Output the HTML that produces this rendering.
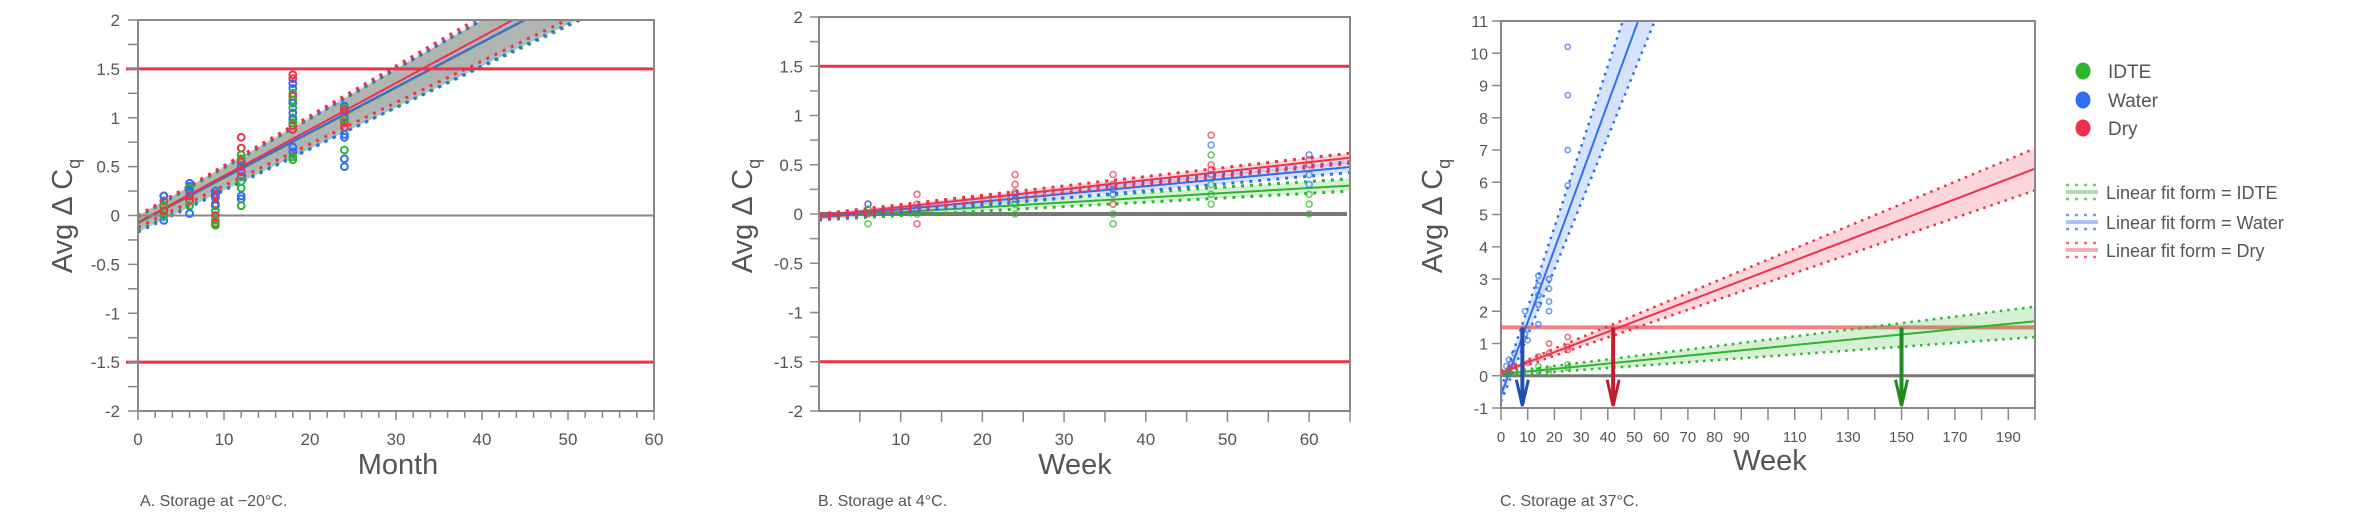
<!DOCTYPE html>
<html><head><meta charset="utf-8"><style>
html,body{margin:0;padding:0;background:#fff;}
svg{display:block;font-family:"Liberation Sans",sans-serif;}
</style></head><body>
<svg id="s" width="2371" height="525" viewBox="0 0 2371 525" xmlns="http://www.w3.org/2000/svg"></svg>
<script>
const S=document.getElementById('s');let h='';
const G='#2db52d',B='#2f6ef0',R='#f0304a',AX='#888';
function L(x1,y1,x2,y2,c,w,extra){h+=`<line x1="${x1}" y1="${y1}" x2="${x2}" y2="${y2}" stroke="${c}" stroke-width="${w}" ${extra||''}/>`;}
function T(x,y,t,sz,anc,extra){h+=`<text x="${x}" y="${y}" font-size="${sz}" fill="#555" text-anchor="${anc||'start'}" ${extra||''}>${t}</text>`;}
function C(x,y,r,c,fill,op,sw){h+=`<circle cx="${x}" cy="${y}" r="${r}" fill="${fill?c:'none'}" stroke="${c}" stroke-width="${sw||1.6}" ${op?'opacity="'+op+'"':''}/>`;}
function panel(o){
 const {x0,x1,y0,y1,xmin,xmax,ymin,ymax}=o;
 const X=v=>x0+(v-xmin)/(xmax-xmin)*(x1-x0), Y=v=>y1-(v-ymin)/(ymax-ymin)*(y1-y0);
 h+=`<clipPath id="c${o.id}"><rect x="${x0}" y="${y0}" width="${x1-x0}" height="${y1-y0}"/></clipPath>`;
 return {X,Y};
}
function axes(p,o){
 const {x0,x1,y0,y1}=o;
 h+=`<rect x="${x0}" y="${y0}" width="${x1-x0}" height="${y1-y0}" fill="none" stroke="${AX}" stroke-width="2"/>`;
}
function band(p,id,xa,xb,f1,lo,hi,c,op,dot){
 const {X,Y}=p;let pts=[];
 for(let i=0;i<=20;i++){const x=xa+(xb-xa)*i/20;pts.push(X(x)+','+Y(hi(x)));}
 for(let i=20;i>=0;i--){const x=xa+(xb-xa)*i/20;pts.push(X(x)+','+Y(lo(x)));}
 h+=`<g clip-path="url(#c${id})"><polygon points="${pts.join(' ')}" fill="${c}" opacity="${op}"/>`;
 let pl=f=>{let q=[];for(let i=0;i<=20;i++){const x=xa+(xb-xa)*i/20;q.push(X(x)+','+Y(f(x)));}return q.join(' ');};
 h+=`<polyline points="${pl(hi)}" fill="none" stroke="${c}" stroke-width="${dot}" stroke-dasharray="${dot} ${dot*2}"/>`;
 h+=`<polyline points="${pl(lo)}" fill="none" stroke="${c}" stroke-width="${dot}" stroke-dasharray="${dot} ${dot*2}"/>`;
 h+=`<polyline points="${pl(f1)}" fill="none" stroke="${c}" stroke-width="2"/></g>`;
}
// ---------- Panel A ----------
let oA={id:'A',x0:138,x1:654,y0:20,y1:411,xmin:0,xmax:60,ymin:-2,ymax:2};let pA=panel(oA);
{const {X,Y}=pA;
 h+=`<g clip-path="url(#cA)"><polygon points="${X(0)},${Y(0)} ${X(40)},${Y(2)} ${X(51)},${Y(2)} ${X(0)},${Y(-0.17)}" fill="#b5b5b5" opacity="0.7"/></g>`;
 band(pA,'A',0,60,x=>-0.08+0.0462*x,x=>-0.15+0.0418*x,x=>-0.02+0.0505*x,G,0.12,3);
 band(pA,'A',0,60,x=>-0.07+0.0461*x,x=>-0.17+0.0425*x,x=>0.0+0.050*x,B,0.08,3);
 band(pA,'A',0,60,x=>-0.07+0.0475*x,x=>-0.12+0.0425*x,x=>0.0+0.051*x,R,0.08,3);
 L(X(0),Y(0),X(60),Y(0),'#888',2);
 L(126,Y(1.5),653,Y(1.5),R,3);L(126,Y(-1.5),653,Y(-1.5),R,3);
 const cols={3:[[R,.2],[R,.15],[B,.2],[B,.1],[G,.05],[G,.1],[B,-.05],[G,0],[R,.05]],6:[[B,.33],[B,.3],[G,.28],[G,.2],[B,.25],[R,.15],[G,.1],[B,.02],[R,.2]],9:[[R,.22],[R,.2],[B,.18],[R,.12],[B,.1],[G,.05],[R,0],[G,-.05],[R,-.08],[G,-.1],[B,.25]],12:[[R,.8],[R,.69],[G,.62],[G,.58],[R,.55],[B,.5],[G,.45],[B,.4],[G,.35],[G,.28],[B,.2],[B,.17],[G,.1],[R,.45]],18:[[R,1.44],[R,1.4],[B,1.35],[B,1.3],[G,1.25],[R,1.22],[G,1.18],[B,1.15],[G,1.1],[B,1.05],[G,1.0],[B,.98],[R,.92],[R,.88],[G,.95],[B,.65],[G,.6],[G,.57],[B,.7]],24:[[B,1.12],[G,1.1],[R,1.05],[B,1.0],[R,.95],[G,.98],[R,.9],[B,.83],[B,.8],[G,.67],[B,.58],[B,.5],[R,1.08]]};
 for(const k in cols)for(const [c,v] of cols[k])C(X(+k),Y(v),3.4,c,0,0,2);
 axes(pA,oA);
 for(let v=0;v<=60;v+=2){L(X(v),411,X(v),v%10==0?420:418,AX,1.5);}
 for(let v=-2;v<=2.001;v+=0.25){L(128,Y(v),138,Y(v),AX,1.5);}
 for(let v=0;v<=60;v+=10)T(X(v),445,v,17,'middle');
 [2,1.5,1,0.5,0,-0.5,-1,-1.5,-2].forEach(v=>T(120,Y(v)+6,v,17,'end'));
 T(398,474,'Month',29,'middle');
 h+=`<text transform="translate(72,216) rotate(-90)" font-size="29" fill="#555" text-anchor="middle">Avg Δ C<tspan font-size="18" dy="8">q</tspan></text>`;
 T(140,506,'A. Storage at −20°C.',16,'start');
}
// ---------- Panel B ----------
let oB={id:'B',x0:819,x1:1350,y0:17,y1:411,xmin:0,xmax:65,ymin:-2,ymax:2};let pB=panel(oB);
{const {X,Y}=pB;
 L(X(0),Y(1.5),1350,Y(1.5),R,3);L(X(0),Y(-1.5),1350,Y(-1.5),R,3);
 L(X(0),Y(0),1347,Y(0),'#777',4);
 band(pB,'B',0,65,x=>-0.03+0.0049*x,x=>-0.06+0.0045*x,x=>0.0+0.0055*x,G,0.2,3);
 band(pB,'B',0,65,x=>-0.03+0.0078*x,x=>-0.06+0.0074*x,x=>0.0+0.0082*x,B,0.2,3);
 band(pB,'B',0,65,x=>-0.02+0.0091*x,x=>-0.05+0.0087*x,x=>0.0+0.0095*x,R,0.2,3);
 const cols={6:[[R,.1],[B,.1],[G,-.1],[R,0],[G,.05]],12:[[R,.2],[R,.1],[R,-.1],[G,0],[B,.05]],24:[[R,.4],[R,.3],[B,.2],[R,.22],[G,.1],[G,0],[B,.15]],36:[[R,.4],[R,.3],[B,.25],[B,.2],[R,.1],[G,0],[G,-.1]],48:[[R,.8],[B,.7],[G,.6],[R,.5],[B,.4],[G,.3],[G,.2],[G,.1],[R,.45]],60:[[B,.6],[R,.5],[B,.4],[B,.3],[G,.2],[G,.1],[G,0],[R,.55]]};
 for(const k in cols)for(const [c,v] of cols[k])C(X(+k),Y(v),3,c,0,0.7);
 axes(pB,oB);
 for(let v=5;v<=65;v+=5){L(X(v),411,X(v),422,AX,1.5);}
 for(let v=-2;v<=2.001;v+=0.25){L(810,Y(v),819,Y(v),AX,1.5);}
 for(let v=10;v<=60;v+=10)T(X(v),445,v,17,'middle');
 [2,1.5,1,0.5,0,-0.5,-1,-1.5,-2].forEach(v=>T(803,Y(v)+6,v,17,'end'));
 T(1075,474,'Week',29,'middle');
 h+=`<text transform="translate(752,216) rotate(-90)" font-size="29" fill="#555" text-anchor="middle">Avg Δ C<tspan font-size="18" dy="8">q</tspan></text>`;
 T(818,506,'B. Storage at 4°C.',16,'start');
}
// ---------- Panel C ----------
let oC={id:'C',x0:1501,x1:2035,y0:21,y1:408,xmin:0,xmax:200,ymin:-1,ymax:11};let pC=panel(oC);
{const {X,Y}=pC;
 L(X(0),Y(1.5),2035,Y(1.5),'#f08080',4);
 L(X(0),Y(0),2035,Y(0),'#777',3);
 band(pC,'C',0,200,x=>0.05+0.0082*x,x=>0.0+0.006*x,x=>0.1+0.0102*x,G,0.2,2.5);
 band(pC,'C',0,200,x=>-0.6+0.226*x,x=>-0.8+0.205*x,x=>-0.4+0.25*x,B,0.2,2.5);
 band(pC,'C',0,200,x=>0.1+0.0316*x,x=>0.05+0.0285*x,x=>0.15+0.0345*x,R,0.2,2.5);
 const pts=[[2,.3,B],[3,.5,B],[4,.4,B],[5,.7,B],[3,.2,R],[5,.3,R],[3,.1,G],[9,2,B],[9,1.3,B],[10,1.1,B],[14,3.1,B],[14,2.8,B],[14,2.5,B],[14,2.2,B],[14,1.6,B],[18,3,B],[18,2.7,B],[18,2.3,B],[18,2,B],[25,10.2,B],[25,8.7,B],[25,7,B],[25,5.9,B],[10,.4,R],[14,.6,R],[18,1,R],[18,.7,R],[25,1.2,R],[25,.9,R],[25,.8,R],[14,.3,G],[14,.15,G],[18,.2,G],[18,.05,G],[25,.35,G],[25,.25,G]];
 for(const [x,y,c] of pts)C(X(x),Y(y),2.6,c,0,0.7);
 axes(pC,oC);
 function arr(x,c){const xx=X(x);L(xx,Y(1.5),xx,Y(-1)-4,c,4);h+=`<polyline points="${xx-6},${Y(0)+4} ${xx},${Y(-1)-2} ${xx+6},${Y(0)+4}" fill="none" stroke="${c}" stroke-width="3"/>`;}
 arr(8,'#1f4fb0');arr(42,'#c0202e');arr(150,'#1f8a1f');
 for(let v=0;v<=200;v+=10){L(X(v),408,X(v),420,AX,1.5);}
 for(let v=-1;v<=11;v++){L(1492,Y(v),1501,Y(v),AX,1.5);T(1488,Y(v)+6,v,16,'end');}
 [0,10,20,30,40,50,60,70,80,90,110,130,150,170,190].forEach(v=>T(X(v),442,v,15,'middle'));
 T(1770,470,'Week',29,'middle');
 h+=`<text transform="translate(1442,216) rotate(-90)" font-size="29" fill="#555" text-anchor="middle">Avg Δ C<tspan font-size="18" dy="8">q</tspan></text>`;
 T(1500,506,'C. Storage at 37°C.',16,'start');
 [[G,'IDTE',71],[B,'Water',100],[R,'Dry',128]].forEach(([c,t,y])=>{h+=`<ellipse cx="2083" cy="${y}" rx="7.5" ry="8.5" fill="${c}"/>`;T(2108,y+7,t,19,'start');});
 [[G,'IDTE',192],[B,'Water',222],[R,'Dry',250]].forEach(([c,t,y])=>{L(2066,y-7,2098,y-7,c,2.5,'stroke-dasharray="3 6" opacity="0.7"');h+=`<rect x="2066" y="${y-2}" width="32" height="4" fill="${c}" opacity="0.4"/>`;L(2066,y+7,2098,y+7,c,2.5,'stroke-dasharray="3 6" opacity="0.7"');T(2106,y+7,'Linear fit form = '+t,18,'start');});
}
S.innerHTML=h;
</script>
</body></html>
